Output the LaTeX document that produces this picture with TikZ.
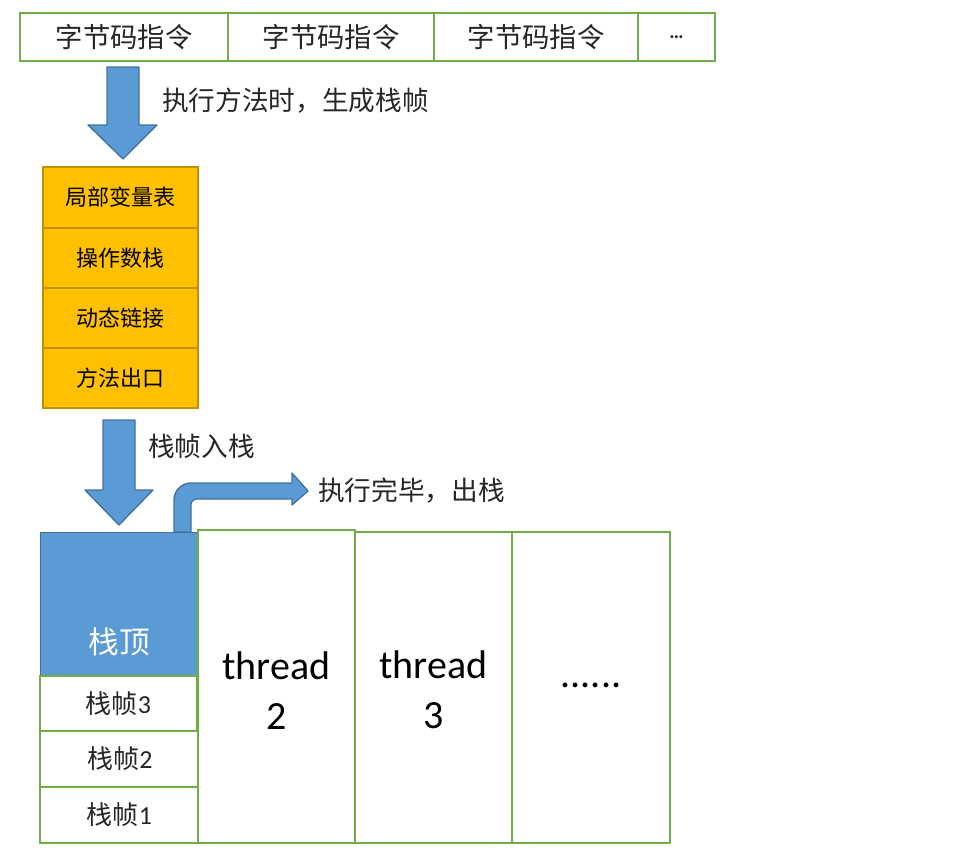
\documentclass[tikz,border=0pt]{standalone}
\usepackage{fontspec}
\setmainfont{Carlito}
\newfontfamily\cjk{Noto Sans CJK SC}
\definecolor{grn}{HTML}{70AD47}
\definecolor{org}{HTML}{FFC000}
\definecolor{orgd}{HTML}{BF9000}
\definecolor{blu}{HTML}{5B9BD5}
\definecolor{blud}{HTML}{41719C}
\definecolor{txt}{HTML}{262626}
\begin{document}
\begin{tikzpicture}[x=0.75pt,y=-0.75pt,
  cell/.style={draw=grn,line width=2.2pt,fill=white,inner sep=0pt,outer sep=0pt},
  ocell/.style={draw=orgd,line width=2pt,fill=org,inner sep=0pt,outer sep=0pt,font=\cjk\fontsize{16.5}{19}\selectfont,text=black},
  fcell/.style={cell,anchor=north west,font=\fontsize{19.5}{22}\selectfont,text=txt},
  arr/.style={fill=blu,draw=blud,line width=1pt,line join=round},
  lbl/.style={font=\cjk\fontsize{20}{24}\selectfont,text=txt,anchor=west,inner sep=0pt}]
\useasboundingbox (0,0) rectangle (960,865);
% top row
\node[cell,minimum width=208*0.75pt,minimum height=48*0.75pt,anchor=north west] (b1) at (20,13) {};
\node[cell,minimum width=206*0.75pt,minimum height=48*0.75pt,anchor=north west] (b2) at (228,13) {};
\node[cell,minimum width=204*0.75pt,minimum height=48*0.75pt,anchor=north west] (b3) at (434,13) {};
\node[cell,minimum width=77*0.75pt,minimum height=48*0.75pt,anchor=north west] (b4) at (638,13) {};
\foreach \n in {b1,b2,b3}{\node[font=\cjk\fontsize{20.5}{24}\selectfont,text=txt] at (\n.center) {字节码指令};}
\node[font=\fontsize{15}{16}\selectfont,text=txt] at (b4.center) {\textbf{\ldots}};
% arrow 1
\path[arr] (107,67) -- (139,67) -- (139,125) -- (157,125) -- (123,159) -- (88,125) -- (107,125) -- cycle;
\node[lbl] (l1) at (162,101) {执行方法时，生成栈帧};
% orange frame
\node[ocell,minimum width=155*0.75pt,minimum height=61*0.75pt,anchor=north west] (o1) at (43,167) {局部变量表};
\node[ocell,minimum width=155*0.75pt,minimum height=60*0.75pt,anchor=north west] (o2) at (43,228) {操作数栈};
\node[ocell,minimum width=155*0.75pt,minimum height=60*0.75pt,anchor=north west] (o3) at (43,288) {动态链接};
\node[ocell,minimum width=155*0.75pt,minimum height=60*0.75pt,anchor=north west] (o4) at (43,348) {方法出口};
% arrow 2
\path[arr] (103,420) -- (135,420) -- (135,490) -- (153,490) -- (119,525) -- (85,490) -- (103,490) -- cycle;
\node[lbl] (l2) at (148,446) {栈帧入栈};
% bent arrow
\path[arr] (174,532) -- (174,500) arc[start angle=180,end angle=270,radius=17] -- (292,483) -- (292,473) -- (308,491) -- (292,505) -- (292,499) -- (196,499) arc[start angle=270,end angle=180,radius=5] -- (191,532) -- cycle;
\node[lbl] (l3) at (318,491) {执行完毕，出栈};
% stack column
\node[fill=blu,draw=blud,line width=1pt,minimum width=157*0.75pt,minimum height=144*0.75pt,anchor=north west,inner sep=0pt] (top) at (40,532) {};
\node[font=\cjk\fontsize{23}{26}\selectfont,text=white] at (119,642) {栈顶};
\node[fcell,minimum width=157*0.75pt,minimum height=55*0.75pt] (f3) at (40,676) {{\cjk 栈帧}3};
\node[fcell,minimum width=160*0.75pt,minimum height=56*0.75pt] (f2) at (40,731) {{\cjk 栈帧}2};
\node[fcell,minimum width=159*0.75pt,minimum height=56*0.75pt] (f1) at (40,787) {{\cjk 栈帧}1};
% threads
\node[cell,minimum width=157*0.75pt,minimum height=313*0.75pt,anchor=north west] (t2) at (198,530) {};
\node[cell,minimum width=157*0.75pt,minimum height=311*0.75pt,anchor=north west] (t3) at (355,532) {};
\node[cell,minimum width=158*0.75pt,minimum height=311*0.75pt,anchor=north west] (t4) at (512,532) {};
\node[font=\fontsize{30}{37.5}\selectfont,align=center,text=black] at ([yshift=-4*0.75pt]t2.center) {thread\\2};
\node[font=\fontsize{30}{37.5}\selectfont,align=center,text=black] at ([yshift=-2*0.75pt]t3.center) {thread\\3};
\node[font=\fontsize{30}{30}\selectfont,text=black] at ([yshift=2*0.75pt]t4.center) {......};
\end{tikzpicture}
\end{document}
